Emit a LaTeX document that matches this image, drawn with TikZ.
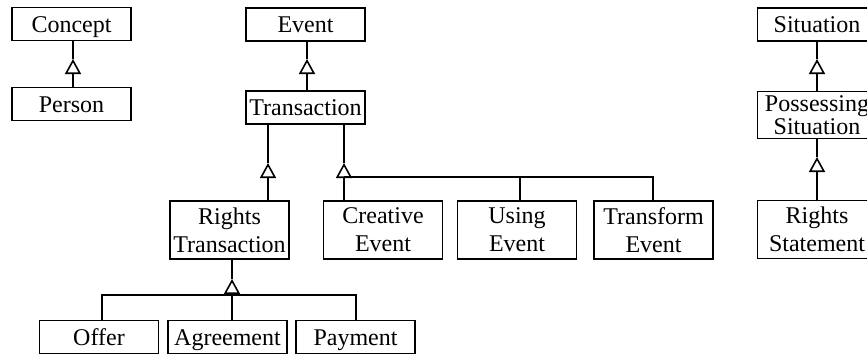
\documentclass[tikz,border=0pt]{standalone}
\usepackage{fontspec}
\setmainfont{Liberation Serif}
\usepackage{tikz}
\usetikzlibrary{arrows.meta}

\begin{document}
\begin{tikzpicture}[
    x=0.5pt, y=-0.5pt,
    line width=0.8pt,
    font=\fontsize{12}{14}\selectfont,
    cls/.style={draw, minimum width=59.5pt, minimum height=16.5pt, inner sep=0pt, align=center, text height=9.5pt, text depth=1.5pt},
    cls2/.style={draw, minimum width=59.5pt, minimum height=29pt, inner sep=0pt, align=center},
    isa/.style={-{Triangle[open, length=7.5pt, width=8pt]}},
]
\useasboundingbox (0,0) rectangle (867,354);

% Concept hierarchy
\node[cls] (concept) at (71.5,24) {Concept};
\node[cls] (person) at (71.5,104) {Person};
\coordinate (pc) at (73,59);
\draw[isa] (person.north -| pc) -- (pc);
\draw (pc) -- (concept.south -| pc);

% Event hierarchy
\node[cls] (event) at (305.5,24.5) {Event};
\node[cls] (trans) at (305.5,107.5) {Transaction};
\coordinate (et) at (307,59);
\draw[isa] (trans.north -| et) -- (et);
\draw (et) -- (event.south -| et);

% Kinds of transaction
\node[cls2] (rtrans) at (229.5,230) {Rights\\Transaction};
\node[cls2] (creative) at (383,230) {Creative\\Event};
\node[cls2] (using) at (517,230) {Using\\Event};
\node[cls2] (transform) at (653.5,230) {Transform\\Event};
\coordinate (tr) at (268,163);
\draw[isa] (rtrans.north -| tr) -- (tr);
\draw (tr) -- (trans.south -| tr);
\coordinate (tc) at (344,163);
\coordinate (jc) at (344,177);
\coordinate (ju) at (520,177);
\coordinate (jt) at (653,177);
\draw[isa] (creative.north -| tc) -- (tc);
\draw (tc) -- (trans.south -| tc);
\draw (jc) -| (transform.north -| jt);
\draw (ju) -- (using.north -| ju);

% Parts of a rights transaction
\node[cls] (offer) at (99,337) {Offer};
\node[cls] (agreement) at (227.5,337) {Agreement};
\node[cls] (payment) at (355.5,337) {Payment};
\coordinate (ra) at (232,279);
\coordinate (jo) at (102,295);
\coordinate (jp) at (356,295);
\draw[isa] (agreement.north -| ra) -- (ra);
\draw (ra) -- (rtrans.south -| ra);
\draw (offer.north -| jo) |- (jp) -- (payment.north -| jp);

% Situation hierarchy
\node[cls] (situation) at (817,24.5) {Situation};
\node[cls2, minimum height=23.5pt] (possessing) at (817,115) {Possessing\\[-2.5pt]Situation};
\node[cls2] (rstatement) at (817,229.5) {Rights\\Statement};
\coordinate (sp) at (817,59);
\draw[isa] (possessing.north) -- (sp);
\draw (sp) -- (situation.south);
\coordinate (pr) at (817,157);
\draw[isa] (rstatement.north) -- (pr);
\draw (pr) -- (possessing.south);

\end{tikzpicture}
\end{document}
